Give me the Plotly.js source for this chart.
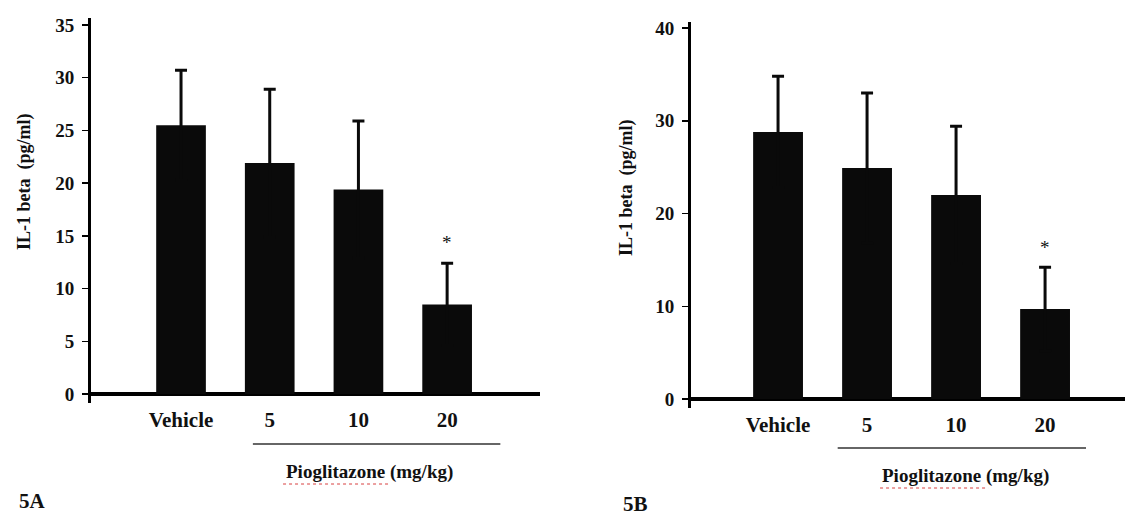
<!DOCTYPE html>
<html>
<head>
<meta charset="utf-8">
<script src="https://cdn.plot.ly/plotly-3.0.1.min.js"></script>
<style>html,body{margin:0;padding:0;background:#fff;}#chart{width:1125px;height:517px;}</style>
</head>
<body>
<div id="chart"></div>
<script>
// ---- data ----
const groups = ["Vehicle", "5", "10", "20"];
const groupIdx = [0, 1, 2, 3];
const valuesA = [25.5, 21.9, 19.4, 8.5];
const errorsA = [5.2, 7.0, 6.5, 3.9];
const valuesB = [28.8, 24.9, 22.0, 9.7];
const errorsB = [6.0, 8.1, 7.4, 4.5];
const starA = 14.4;
const starB = 16.3;
const yTicksA = [0, 5, 10, 15, 20, 25, 30, 35];
const yTicksB = [0, 10, 20, 30, 40];
const yTitle = "IL-1 beta&nbsp;&nbsp;(pg/ml)";
const groupLabel = "Pioglitazone (mg/kg)";

const serif = "Liberation Serif, Times New Roman, serif";
const black = "#0a0a0a";

function barTrace(vals, errs, xa, ya) {
  return {
    type: "bar", x: groupIdx, y: vals, xaxis: xa, yaxis: ya,
    width: 0.56,
    marker: {color: black, line: {width: 0}},
    error_y: {type: "data", array: errs, visible: true, color: black, thickness: 3, width: 6},
    hoverinfo: "skip", showlegend: false
  };
}

const traces = [barTrace(valuesA, errorsA, "x", "y"), barTrace(valuesB, errorsB, "x2", "y2")];

const tickFont = {family: serif, size: 19, color: "#111", weight: "bold"};

function xAxis(domain, range, anchor) {
  return {
    domain: domain, range: range, anchor: anchor,
    showline: false, showgrid: false, zeroline: false,
    tickmode: "array", tickvals: groupIdx, ticktext: groups,
    ticks: "", tickfont: {family: serif, size: 21, color: "#111", weight: "bold"},
    ticklabelstandoff: 2, fixedrange: true
  };
}
function yAxis(domain, range, anchor, tv) {
  return {
    domain: domain, range: range, anchor: anchor,
    showline: true, linewidth: 3, linecolor: "#000",
    showgrid: false,
    zeroline: true, zerolinewidth: 4, zerolinecolor: "#000",
    tickmode: "array", tickvals: tv, ticktext: tv.map(String),
    ticks: "outside", ticklen: 6, tickwidth: 1.5, tickcolor: "#000",
    tickfont: tickFont, ticklabelstandoff: 4, fixedrange: true
  };
}

const plotTop = 18, plotBottom = 408, H = 517, W = 1125;
const py = v => (plotBottom - v) / (plotBottom - plotTop);

function ann(o) { return Object.assign({showarrow: false, xanchor: "center", yanchor: "middle"}, o); }

const layout = {
  width: W, height: H,
  margin: {l: 0, r: 0, t: plotTop, b: H - plotBottom},
  paper_bgcolor: "#fff", plot_bgcolor: "rgba(0,0,0,0)",
  showlegend: false,
  xaxis: xAxis([91 / W, 540 / W], [-1.015, 4.047], "y"),
  yaxis: yAxis([0.0128, 1], [-0.85, 35.66], "x", yTicksA),
  xaxis2: xAxis([691 / W, 1], [-0.978, 3.898], "y2"),
  yaxis2: yAxis([0, 0.9897], [-0.97, 40.65], "x2", yTicksB),
  shapes: [
    {type: "line", xref: "x", yref: "paper", x0: 0.81, x1: 3.6, y0: py(444), y1: py(444), line: {color: "#333", width: 1.5}},
    {type: "line", xref: "x2", yref: "paper", x0: 0.67, x1: 3.46, y0: py(448), y1: py(448), line: {color: "#333", width: 1.5}},
    {type: "line", xref: "x", yref: "paper", x0: 1.15, x1: 2.345, y0: py(484), y1: py(484), line: {color: "#d84040", width: 1, dash: "dot"}},
    {type: "line", xref: "x2", yref: "paper", x0: 1.146, x1: 2.36, y0: py(488), y1: py(488), line: {color: "#d84040", width: 1, dash: "dot"}}
  ],
  annotations: [
    ann({xref: "x", yref: "y", x: 3, y: starA, text: "*", font: {family: serif, size: 19, color: "#111"}}),
    ann({xref: "x2", yref: "y2", x: 3, y: starB, text: "*", font: {family: serif, size: 19, color: "#111"}}),
    ann({xref: "x", yref: "paper", x: 2.12, y: py(472), text: groupLabel, font: {family: serif, size: 19, color: "#111", weight: "bold"}}),
    ann({xref: "x2", yref: "paper", x: 2.11, y: py(476), text: groupLabel, font: {family: serif, size: 19, color: "#111", weight: "bold"}}),
    ann({xref: "paper", yref: "paper", x: 25 / W, y: py(182), text: yTitle, textangle: -90, font: {family: serif, size: 18, color: "#111", weight: "bold"}}),
    ann({xref: "paper", yref: "paper", x: 626 / W, y: py(188), text: yTitle, textangle: -90, font: {family: serif, size: 18, color: "#111", weight: "bold"}}),
    ann({xref: "paper", yref: "paper", x: 32 / W, y: py(501), text: "5A", font: {family: serif, size: 21, color: "#111", weight: "bold"}}),
    ann({xref: "paper", yref: "paper", x: 635 / W, y: py(504), text: "5B", font: {family: serif, size: 21, color: "#111", weight: "bold"}})
  ]
};

Plotly.newPlot("chart", traces, layout, {staticPlot: true, displayModeBar: false});
</script>
</body>
</html>
